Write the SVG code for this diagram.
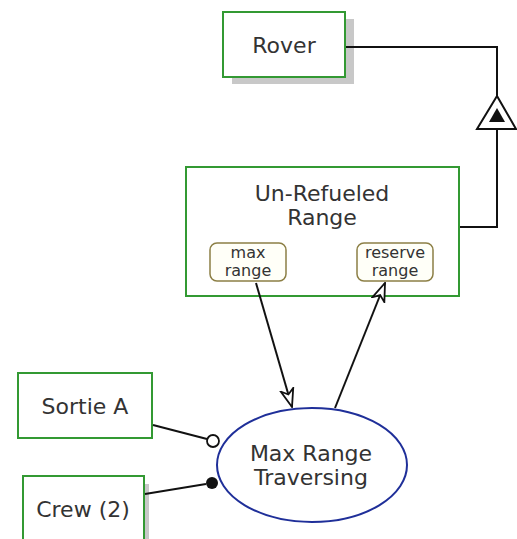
<svg xmlns="http://www.w3.org/2000/svg" width="517" height="539" viewBox="0 0 517 539">
<defs>
<style>
.box{fill:#fff;stroke:#339933;stroke-width:2}
.shadow{fill:#c8c8c8}
.pill{fill:#fffff8;stroke:#8c7f45;stroke-width:1.5}
.t{font-family:"DejaVu Sans",sans-serif;font-size:22px;fill:#333;text-anchor:middle}
.s{font-family:"DejaVu Sans",sans-serif;font-size:16px;fill:#333;text-anchor:middle}
.ln{fill:none;stroke:#111;stroke-width:2}
</style>
<marker id="open" viewBox="0 0 20 16" refX="19" refY="8" markerWidth="20" markerHeight="16" markerUnits="userSpaceOnUse" orient="auto">
<path d="M1,1.5 L19,8 L1,14.5 L6,8 z" fill="#fff" stroke="#111" stroke-width="1.8" stroke-linejoin="miter"/>
</marker>
</defs>
<rect width="517" height="539" fill="#fff"/>
<g id="rover">
<rect class="shadow" x="232" y="19" width="122" height="65"/>
<rect class="box" x="223" y="12" width="122" height="65"/>
<text class="t" x="284" y="53">Rover</text>
</g>
<g id="unrefueled">
<rect class="box" x="186" y="167" width="273" height="129"/>
<text class="t" x="322" y="201">Un-Refueled</text>
<text class="t" x="322" y="225">Range</text>
<g id="maxrange">
<rect class="pill" x="210" y="243" width="76" height="38" rx="7"/>
<text class="s" x="248" y="258">max</text>
<text class="s" x="248" y="276">range</text>
</g>
<g id="reserverange">
<rect class="pill" x="357" y="243" width="76" height="38" rx="7"/>
<text class="s" x="395" y="258">reserve</text>
<text class="s" x="395" y="276">range</text>
</g>
</g>
<g id="sortie">
<rect class="box" x="18" y="373" width="134" height="65"/>
<text class="t" x="85" y="414">Sortie A</text>
</g>
<g id="crew">
<rect class="shadow" x="28" y="484" width="121" height="60"/>
<rect class="box" x="23" y="476" width="121" height="70"/>
<text class="t" x="83" y="517">Crew (2)</text>
</g>
<g id="traversing">
<ellipse cx="312" cy="465" rx="95" ry="57" fill="#fff" stroke="#1f2f99" stroke-width="2"/>
<text class="t" x="311" y="461">Max Range</text>
<text class="t" x="311" y="485">Traversing</text>
</g>
<g id="connectors">
<polyline class="ln" points="346,47 497,47 497,96"/>
<polygon points="497,96 477,129 516,129" fill="#fff" stroke="#111" stroke-width="2"/>
<polygon points="497,108 489,122 505,122" fill="#111"/>
<polyline class="ln" points="497,130 497,227 460,227"/>
<line class="ln" x1="256" y1="283" x2="292" y2="407" marker-end="url(#open)"/>
<line class="ln" x1="335" y1="408" x2="385" y2="283" marker-end="url(#open)"/>
<line class="ln" x1="153" y1="425" x2="207" y2="439"/>
<circle cx="213" cy="441" r="6" fill="#fff" stroke="#111" stroke-width="1.8"/>
<line class="ln" x1="145" y1="494" x2="206" y2="484"/>
<circle cx="212" cy="483" r="6" fill="#111"/>
</g>
</svg>
